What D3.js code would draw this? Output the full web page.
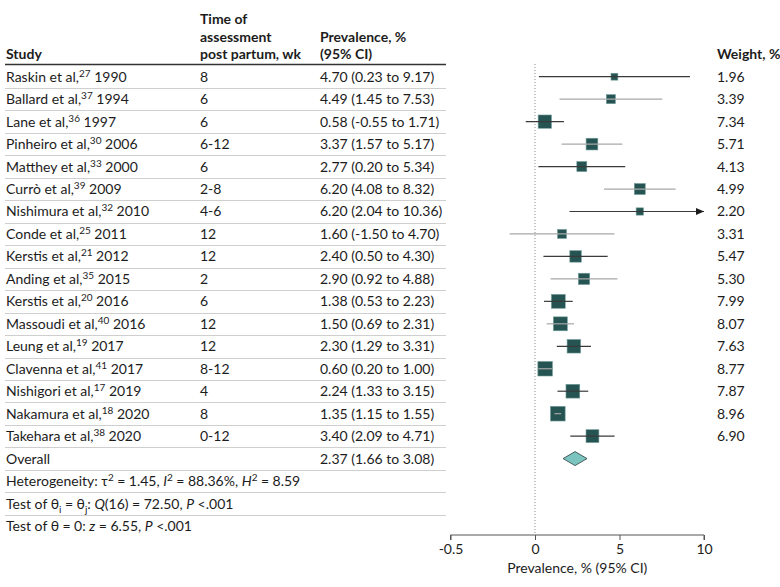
<!DOCTYPE html>
<html><head><meta charset="utf-8">
<script src="https://cdn.jsdelivr.net/npm/d3@7"></script>
<style>
body{margin:0;background:#fff;}
svg{display:block;font-family:Lato, "Open Sans", sans-serif;}
</style></head>
<body><svg id="c" width="780" height="587"></svg>
<script>
const authors = ["Raskin et al,","Ballard et al,","Lane et al,","Pinheiro et al,","Matthey et al,","Currò et al,","Nishimura et al,","Conde et al,","Kerstis et al,","Anding et al,","Kerstis et al,","Massoudi et al,","Leung et al,","Clavenna et al,","Nishigori et al,","Nakamura et al,","Takehara et al,"];
const refs = ["27","37","36","30","33","39","32","25","21","35","20","40","19","41","17","18","38"];
const years = ["1990","1994","1997","2006","2000","2009","2010","2011","2012","2015","2016","2016","2017","2017","2019","2020","2020"];
const times = ["8","6","6","6-12","6","2-8","4-6","12","12","2","6","12","12","8-12","4","8","0-12"];
const estimates = [4.70,4.49,0.58,3.37,2.77,6.20,6.20,1.60,2.40,2.90,1.38,1.50,2.30,0.60,2.24,1.35,3.40];
const lower = [0.23,1.45,-0.55,1.57,0.20,4.08,2.04,-1.50,0.50,0.92,0.53,0.69,1.29,0.20,1.33,1.15,2.09];
const upper = [9.17,7.53,1.71,5.17,5.34,8.32,10.36,4.70,4.30,4.88,2.23,2.31,3.31,1.00,3.15,1.55,4.71];
const weights = [1.96,3.39,7.34,5.71,4.13,4.99,2.20,3.31,5.47,5.30,7.99,8.07,7.63,8.77,7.87,8.96,6.90];
const overall = {est:2.37, lo:1.66, hi:3.08};
const tickValues = [-5,0,5,10];
const tickLabels = ["-0.5","0","5","10"];

const svg = d3.select("#c");
const ink = "#1c1c1c";
const FS = 14;
const xScale = d3.scaleLinear().domain([-5,10]).range([450.5,704]);
const nRows = 21;
const yScale = d3.scaleLinear().domain([0,20]).range([76.7,526]);
const step = yScale(1)-yScale(0);
const colStudy = 6, colTime = 200, colPrev = 320, colWeight = 717;
const sp = "\u2005";

// headers
const hdr = svg.append("g").attr("fill",ink).attr("font-size",FS).attr("font-weight",700);
hdr.append("text").attr("x",colStudy).attr("y",59).text("Study");
[["Time of",24],["assessment",42],["post partum, wk",59]].forEach(([t,y])=>hdr.append("text").attr("x",colTime).attr("y",y).text(t));
[["Prevalence, %",42],["(95% CI)",59]].forEach(([t,y])=>hdr.append("text").attr("x",colPrev).attr("y",y).text(t));
hdr.append("text").attr("x",colWeight).attr("y",59).text("Weight, %");

// header rule
svg.append("line").attr("x1",5).attr("x2",446).attr("y1",64.5).attr("y2",64.5).attr("stroke","#333").attr("stroke-width",1.3);
// row separators
for(let i=0;i<nRows-1;i++){
  const yy = Math.round(yScale(i)+step/2)+0.5;
  svg.append("line").attr("x1",5).attr("x2",446).attr("y1",yy).attr("y2",yy).attr("stroke","#cfcfcf").attr("stroke-width",1);
}

// study rows text
const rows = svg.append("g").attr("fill",ink).attr("font-size",FS);
authors.forEach((a,i)=>{
  const ty = yScale(i)+5;
  const t = rows.append("text").attr("x",colStudy).attr("y",ty);
  t.append("tspan").text(a);
  t.append("tspan").attr("font-size",10).attr("dy",-5).text(refs[i]);
  t.append("tspan").attr("dy",5).text(" "+years[i]);
  rows.append("text").attr("x",colTime).attr("y",ty).text(times[i]);
  rows.append("text").attr("x",colPrev).attr("y",ty).text(`${estimates[i].toFixed(2)} (${lower[i].toFixed(2)} to ${upper[i].toFixed(2)})`);
  rows.append("text").attr("x",colWeight).attr("y",ty).text(weights[i].toFixed(2));
});
const oy = yScale(17)+5;
rows.append("text").attr("x",colStudy).attr("y",oy).text("Overall");
rows.append("text").attr("x",colPrev).attr("y",oy).text(`${overall.est.toFixed(2)} (${overall.lo.toFixed(2)} to ${overall.hi.toFixed(2)})`);

// stats rows
function rich(y, parts){
  const t = rows.append("text").attr("x",colStudy).attr("y",y);
  parts.forEach(p=>{
    const s = t.append("tspan").text(p.t);
    if(p.i) s.attr("font-style","italic");
    if(p.sup) s.attr("font-size",10).attr("dy",-5);
    if(p.sub) s.attr("font-size",10).attr("dy",4);
    if(p.back) s.attr("dy",p.back);
  });
}
rich(yScale(18)+5,[{t:"Heterogeneity: τ"},{t:"2",sup:1},{t:`${sp}=${sp}1.45, `,back:5},{t:"I",i:1},{t:"2",sup:1},{t:`${sp}=${sp}88.36%, `,back:5},{t:"H",i:1},{t:"2",sup:1},{t:`${sp}=${sp}8.59`,back:5}]);
rich(yScale(19)+5,[{t:"Test of θ"},{t:"i",sub:1},{t:`${sp}=${sp}θ`,back:-4},{t:"j",sub:1},{t:": ",back:-4},{t:"Q",i:1},{t:`(16)${sp}=${sp}72.50, `},{t:"P",i:1},{t:`${sp}<.001`}]);
rich(yScale(20)+5,[{t:`Test of θ${sp}=${sp}0: `},{t:"z",i:1},{t:`${sp}=${sp}6.55, `},{t:"P",i:1},{t:`${sp}<.001`}]);

// reference line at 0
svg.append("line").attr("x1",xScale(0)).attr("x2",xScale(0)).attr("y1",64).attr("y2",535)
  .attr("stroke","#888").attr("stroke-width",1).attr("stroke-dasharray","1,2");

// squares
const sq = d => 4.9*Math.sqrt(d);
const plot = svg.append("g");
weights.forEach((w,i)=>{
  const s = sq(w);
  plot.append("rect").attr("x",xScale(estimates[i])-s/2).attr("y",yScale(i)-s/2).attr("width",s).attr("height",s)
    .attr("fill","#255452").attr("stroke","#6f9c99").attr("stroke-width",0.6);
});
// CI lines
estimates.forEach((e,i)=>{
  const col = i%2===0 ? "#3a3a3a" : "#a8a8a8";
  const hi = Math.min(upper[i],10);
  const yy = yScale(i);
  plot.append("line").attr("x1",xScale(lower[i])).attr("x2",xScale(hi)).attr("y1",yy).attr("y2",yy)
    .attr("stroke",col).attr("stroke-width",1.2);
  if(upper[i]>10){
    const xe = xScale(10);
    plot.append("path").attr("d",`M${xe},${yy} L${xe-8},${yy-3.5} L${xe-8},${yy+3.5} Z`).attr("fill","#1c1c1c");
  }
});
// overall diamond
const dy0 = yScale(17), dh = 7;
plot.append("path").attr("d",`M${xScale(overall.lo)},${dy0} L${xScale(overall.est)},${dy0-dh} L${xScale(overall.hi)},${dy0} L${xScale(overall.est)},${dy0+dh} Z`)
  .attr("fill","#7cc4bf").attr("stroke","#2a3d3c").attr("stroke-width",0.8);

// axis
const axis = d3.axisBottom(xScale).tickValues(tickValues).tickFormat((d,i)=>tickLabels[i]).tickSize(5).tickPadding(4);
const ax = svg.append("g").attr("transform","translate(0,535)").call(axis);
ax.select(".domain").attr("stroke","#555").attr("d",`M${xScale(-5)},5V0H${xScale(10)}V5`);
ax.selectAll(".tick line").attr("stroke","#555");
ax.selectAll(".tick text").attr("font-size",FS).attr("fill",ink).attr("font-family","Lato, 'Open Sans', sans-serif");
svg.append("text").attr("x",(xScale(-5)+xScale(10))/2).attr("y",573).attr("text-anchor","middle")
  .attr("font-size",FS).attr("fill",ink).text("Prevalence, % (95% CI)");
</script></body></html>
